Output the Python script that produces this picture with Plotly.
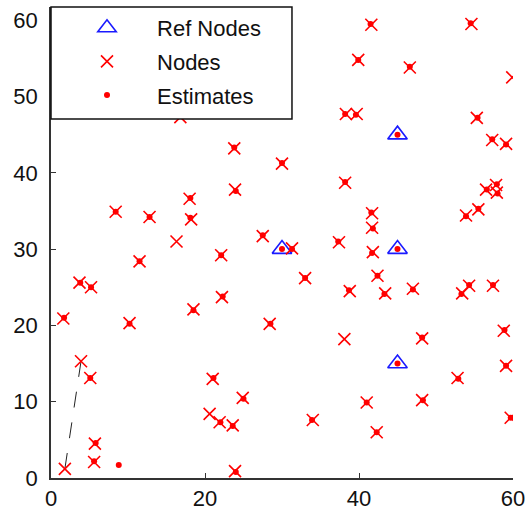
import plotly.graph_objects as go

# Reference (anchor) nodes
ref_x = [30.0, 45.0, 45.0, 45.0]
ref_y = [30.0, 45.0, 30.0, 15.0]

# Unknown nodes (true positions)
node_x = [41.6, 54.6, 39.9, 46.6, 59.9, 38.3, 39.7, 55.3, 57.3, 59.1,
          16.8, 23.8, 23.9, 18.0, 8.4, 12.8, 18.2, 16.3, 27.5, 30.0,
          38.2, 41.7, 41.7, 37.4, 41.8, 33.0, 42.4, 38.8, 43.4, 31.3,
          56.5, 57.8, 57.9, 55.5, 53.9, 47.0, 54.3, 53.4, 57.4, 11.5,
          3.7, 5.2, 22.1, 22.2, 1.6, 10.2, 3.9, 5.1, 5.7, 5.6,
          1.8, 18.5, 28.4, 21.0, 24.9, 20.6, 21.9, 23.6, 23.9, 38.1,
          41.0, 34.0, 42.3, 48.2, 58.8, 59.1, 52.8, 48.2, 59.7]
node_y = [59.4, 59.5, 54.8, 53.8, 52.5, 47.7, 47.7, 47.2, 44.3, 43.8,
          47.3, 43.2, 37.8, 36.6, 34.9, 34.2, 33.9, 31.0, 31.7, 41.2,
          38.7, 34.7, 32.8, 30.9, 29.6, 26.2, 26.5, 24.5, 24.2, 30.1,
          37.8, 38.4, 37.4, 35.2, 34.4, 24.8, 25.2, 24.2, 25.2, 28.4,
          25.6, 25.0, 29.2, 23.7, 20.9, 20.3, 15.3, 13.1, 4.5, 2.1,
          1.2, 22.1, 20.2, 13.0, 10.5, 8.4, 7.3, 6.9, 0.9, 18.2,
          9.9, 7.6, 6.0, 18.3, 19.3, 14.7, 13.1, 10.2, 7.9]

# Position estimates
est_x = [30.0, 45.0, 45.0, 45.0, 8.8,
         41.5, 54.5, 39.9, 46.6, 38.2, 39.6, 55.4, 57.3, 59.1, 23.8,
         24.0, 18.1, 8.4, 12.8, 18.1, 27.5, 30.0, 38.2, 41.6, 41.8,
         37.3, 41.7, 33.0, 42.4, 38.7, 43.3, 31.3, 56.6, 57.9, 58.0,
         55.5, 53.9, 47.0, 54.3, 53.3, 57.4, 11.5, 3.8, 5.2, 22.1,
         22.3, 1.7, 10.2, 5.1, 5.8, 5.6, 18.5, 28.5, 21.1, 25.0,
         22.0, 23.6, 24.0, 41.0, 33.9, 42.3, 48.2, 58.9, 59.1, 52.9,
         48.3, 59.7]
est_y = [30.0, 45.0, 30.0, 15.0, 1.7,
         59.5, 59.6, 54.8, 53.9, 47.7, 47.6, 47.2, 44.4, 43.7, 43.3,
         37.6, 36.7, 34.9, 34.2, 34.1, 31.8, 41.3, 38.8, 34.8, 32.7,
         31.0, 29.5, 26.2, 26.5, 24.6, 24.1, 30.0, 37.8, 38.5, 37.3,
         35.3, 34.3, 24.7, 25.3, 24.1, 25.3, 28.4, 25.6, 25.0, 29.2,
         23.8, 21.0, 20.2, 13.1, 4.6, 2.2, 22.0, 20.2, 13.1, 10.4,
         7.3, 6.8, 0.8, 9.9, 7.6, 6.0, 18.4, 19.4, 14.7, 13.0,
         10.2, 7.9]

# Error link (true node -> estimate)
link_x = [1.8, 3.9]
link_y = [1.2, 15.3]

FONT = "Liberation Sans, Arial, sans-serif"

fig = go.Figure()

fig.add_trace(go.Scatter(
    x=link_x, y=link_y, mode="lines", showlegend=False,
    line=dict(color="#222222", width=1, dash="16px,15px"), hoverinfo="skip"))

fig.add_trace(go.Scatter(
    x=ref_x, y=ref_y, mode="markers", name="Ref Nodes", legendgroup="a",
    marker=dict(symbol="triangle-up-open", size=17, color="#1a1aff",
                line=dict(width=1.6, color="#1a1aff"))))

fig.add_trace(go.Scatter(
    x=node_x, y=node_y, mode="markers", name="Nodes", legendgroup="b",
    marker=dict(symbol="x-thin-open", size=12, color="#ff0000",
                line=dict(width=1.6, color="#ff0000"))))

fig.add_trace(go.Scatter(
    x=est_x, y=est_y, mode="markers", name="Estimates", legendgroup="c",
    marker=dict(symbol="circle", size=6, color="#ff0000")))

fig.update_layout(
    width=525, height=516,
    margin=dict(l=51, r=12, t=7, b=38, autoexpand=False),
    paper_bgcolor="white", plot_bgcolor="white",
    font=dict(family=FONT, size=22, color="#111111"),
    showlegend=True,
    legend=dict(x=0.013, y=1.0, xanchor="left", yanchor="top",
                bgcolor="rgba(0,0,0,0)", borderwidth=0,
                font=dict(family=FONT, size=22, color="#111111"),
                itemwidth=90, tracegroupgap=2, itemclick=False),
    shapes=[dict(type="rect", xref="paper", yref="paper",
                 x0=0, x1=0.5216, y0=0.762, y1=1.0,
                 fillcolor="white", line=dict(color="#111111", width=1.5),
                 layer="above")],
)

fig.update_xaxes(range=[0, 60], tickvals=[0, 20, 40, 60], showgrid=False,
                 zeroline=False, showline=True, linecolor="#333333", linewidth=1.5,
                 ticks="inside", ticklen=5, tickcolor="#333333", automargin=False,
                 ticklabelstandoff=0, ticklabeloverflow="allow",
                 tickfont=dict(family=FONT, size=22, color="#111111"))
fig.update_yaxes(range=[0, 61.73], tickvals=[0, 10, 20, 30, 40, 50, 60], showgrid=False,
                 zeroline=False, showline=True, linecolor="#333333", linewidth=1.5,
                 ticks="inside", ticklen=5, tickcolor="#333333", automargin=False,
                 ticklabelstandoff=7, ticklabeloverflow="allow",
                 tickfont=dict(family=FONT, size=22, color="#111111"))

fig.write_html("out.html", config={"displayModeBar": False},
               post_script="document.body.style.margin='0';document.body.style.overflow='hidden';")
